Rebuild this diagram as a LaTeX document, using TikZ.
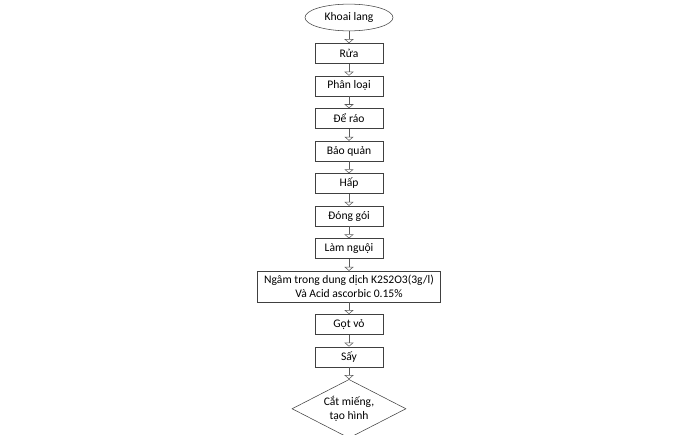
\documentclass[tikz,border=0pt]{standalone}
\usepackage{fontspec}
\setmainfont{Carlito}
\usetikzlibrary{shapes.geometric, positioning, arrows.meta}

\tikzset{
	stepbox/.style={draw=black!75, rectangle, minimum width=51pt, minimum height=15pt, inner sep=1pt},
	flow/.style={draw=black!65, double, double distance=2.2pt, line width=0.4pt, -{Triangle[open, length=3pt, width=7pt]}},
}

\begin{document}
\begin{tikzpicture}[x=0.75pt, y=-0.75pt, node distance=9pt, font=\fontsize{8.7}{10.5}\selectfont]
	\useasboundingbox (0,0) rectangle (696,435);
	\node[ellipse, draw=black!75, minimum width=66pt, minimum height=20pt] (khoai) at (349,17.5) {Khoai lang};
	\node[stepbox, below=of khoai] (rua) {Rửa};
	\node[stepbox, below=of rua] (phanloai) {Phân loại};
	\node[stepbox, below=of phanloai] (derao) {Để ráo};
	\node[stepbox, below=of derao] (baoquan) {Bảo quản};
	\node[stepbox, below=of baoquan] (hap) {Hấp};
	\node[stepbox, below=of hap] (donggoi) {Đóng gói};
	\node[stepbox, below=of donggoi] (lamnguoi) {Làm nguội};
	\node[stepbox, below=of lamnguoi, minimum width=137pt, minimum height=23pt, align=center] (ngam) {Ngâm trong dung dịch K2S2O3(3g/l)\\Và Acid ascorbic 0.15\%};
	\node[stepbox, below=of ngam] (gotvo) {Gọt vỏ};
	\node[stepbox, below=of gotvo] (say) {Sấy};
	\node[diamond, draw=black!75, below=of say, minimum width=85.5pt, minimum height=44pt, aspect=1.9, inner sep=0pt, align=center] (cat) {Cắt miếng,\\tạo hình};

	\draw [flow]
		(khoai) edge[] (rua)
		(rua) edge[] (phanloai)
		(phanloai) edge[] (derao)
		(derao) edge[] (baoquan)
		(baoquan) edge[] (hap)
		(hap) edge[] (donggoi)
		(donggoi) edge[] (lamnguoi)
		(lamnguoi) edge[] (ngam)
		(ngam) edge[] (gotvo)
		(gotvo) edge[] (say)
		(say) edge[] (cat)
		;
\end{tikzpicture}
\end{document}
